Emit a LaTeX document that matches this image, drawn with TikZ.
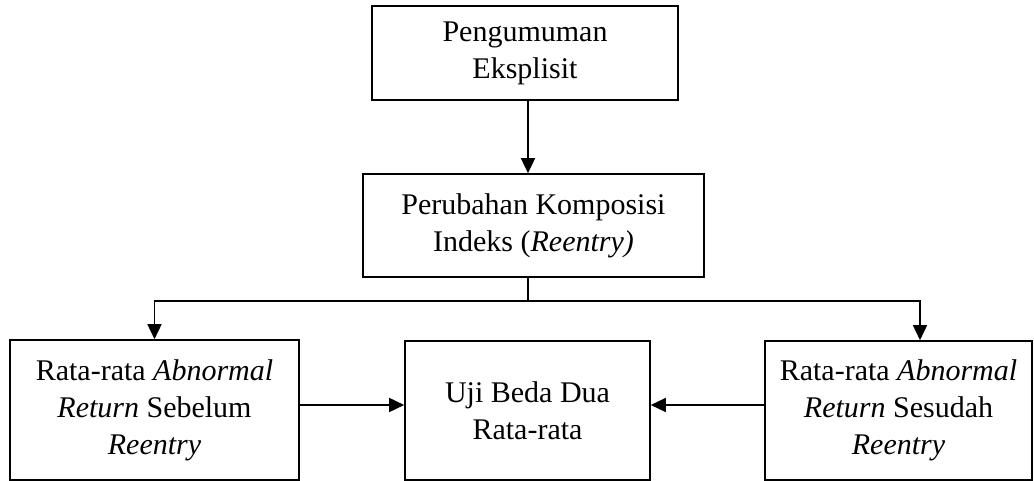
\documentclass[tikz,border=0pt]{standalone}
\usepackage{fontspec}
\setmainfont{Liberation Serif}
\usetikzlibrary{arrows.meta}

\tikzset{
	kotak/.style = {draw, line width = 1.6pt, align = center, inner sep = 0pt, font = \fontsize{30}{37}\selectfont},
	panah/.style = {->, line width = 1.6pt}
}

\begin{document}
\begin{tikzpicture}[> = {Triangle[length = 15pt, width = 14pt]}, x = 1pt, y = -1pt]

	\useasboundingbox (0, 0) rectangle (1034, 481);

	% Boxes
	
	\node [kotak, minimum width = 306pt, minimum height = 94pt] (pengumuman) at (525, 53) {Pengumuman\\Eksplisit};
	
	\node [kotak, minimum width = 341pt, minimum height = 103pt] (komposisi) at (533.5, 225.5) {Perubahan Komposisi\\Indeks (\textit{Reentry)}};
	
	\node [kotak, minimum width = 289pt, minimum height = 140pt] (sebelum) at (154.5, 410) {Rata-rata \textit{Abnormal}\\\textit{Return} Sebelum\\\textit{Reentry}};
	
	\node [kotak, minimum width = 245pt, minimum height = 139pt] (ujibeda) at (527.5, 410.5) {Uji Beda Dua\\Rata-rata};
	
	\node [kotak, minimum width = 267pt, minimum height = 139pt] (sesudah) at (898.5, 410.5) {Rata-rata \textit{Abnormal}\\\textit{Return} Sesudah\\\textit{Reentry}};
	
	% Branch points
	
	\coordinate (cabang) at (528, 301);
	\coordinate (kanan) at (920, 301);
	
	% Arrows
	
	\draw [panah] (528, 0 |- pengumuman.south) -- (528, 0 |- komposisi.north);
	
	\draw [line width = 1.6pt] (528, 0 |- komposisi.south) -- (cabang);
	
	\draw [panah] (cabang) -- (cabang -| sebelum.north) -- (sebelum.north);
	
	\draw [panah] (cabang) -- (kanan) -- (kanan |- sesudah.north);
	
	\draw [panah] ([yshift = 5pt] sebelum.east) -- ([yshift = 5pt] sebelum.east -| ujibeda.west);
	
	\draw [panah] ([yshift = 5.5pt] sesudah.west) -- ([yshift = 5.5pt] sesudah.west -| ujibeda.east);

\end{tikzpicture}
\end{document}
